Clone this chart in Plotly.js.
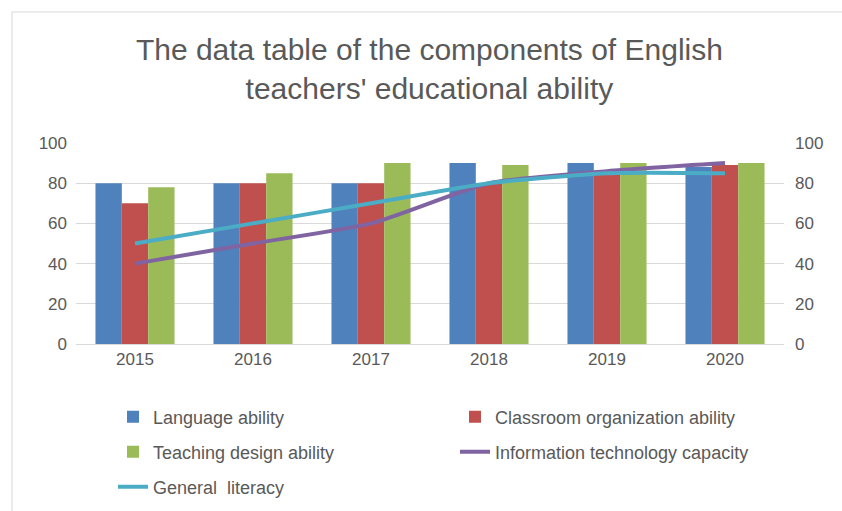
<!DOCTYPE html>
<html><head><meta charset="utf-8">
<script src="https://cdn.plot.ly/plotly-3.0.1.min.js"></script>
<style>html,body{margin:0;padding:0;background:#fff}#chart{width:842px;height:511px}</style>
</head><body><div id="chart"></div>
<script>
const years = ['2015','2016','2017','2018','2019','2020'];
const languageAbility = [80, 80, 80, 90, 90, 88];
const classroomAbility = [70, 80, 80, 80, 85, 89];
const teachingDesign = [78, 85, 90, 89, 90, 90];
const infoTech = [40, 50, 60, 80, 86, 90];
const generalLiteracy = [50, 60, 70, 80, 85, 85];

const grey = '#595959';
const font = 'Liberation Sans, Arial, sans-serif';
const traces = [
  {type:'bar', name:'Language ability', x:years, y:languageAbility, marker:{color:'#4F81BD'}, legend:'legend'},
  {type:'bar', name:'Classroom organization ability', x:years, y:classroomAbility, marker:{color:'#C0504D'}, legend:'legend'},
  {type:'bar', name:'Teaching design ability', x:years, y:teachingDesign, marker:{color:'#9BBB59'}, legend:'legend2'},
  {type:'scatter', mode:'lines', name:'Information technology capacity', x:years, y:infoTech, line:{color:'#8064A2', width:4, shape:'spline', smoothing:0.6}, legend:'legend2'},
  {type:'scatter', mode:'lines', name:'General  literacy', x:years, y:generalLiteracy, line:{color:'#4BACC6', width:4, shape:'spline', smoothing:0.6}, legend:'legend3'},
  {type:'scatter', x:years, y:languageAbility, yaxis:'y2', showlegend:false, hoverinfo:'skip', mode:'markers', marker:{opacity:0}}
];
function leg(yPx){
  return {orientation:'h', x:(113-76)/708, xanchor:'left', y:(344-yPx)/201, yanchor:'middle',
    entrywidth:297, entrywidthmode:'pixels', font:{size:18, color:grey, family:font}, traceorder:'normal', bgcolor:'rgba(0,0,0,0)'};
}
const layout = {
  width:842, height:511,
  margin:{l:76, r:58, t:143, b:167, autoexpand:false},
  paper_bgcolor:'#fff', plot_bgcolor:'#fff',
  font:{family:font, color:grey, size:17},
  title:{text:"The data table of the components of English<br>teachers' educational ability", x:0.51, xanchor:'center', xref:'container', yref:'container', y:1-60/511, yanchor:'top', font:{size:30, color:grey, family:font}},
  barmode:'group', bargap:0.33, bargroupgap:0,
  showlegend:true,
  legend:leg(417), legend2:leg(452), legend3:leg(487),
  xaxis:{type:'category', showgrid:false, showline:true, linecolor:'#D9D9D9', ticks:'', tickfont:{size:17}, fixedrange:true},
  yaxis:{range:[0,100], dtick:20, showgrid:true, gridcolor:'#D9D9D9', zeroline:false, showline:false, ticks:'', tickfont:{size:17}, ticklabelstandoff:8},
  yaxis2:{range:[0,100], dtick:20, overlaying:'y', side:'right', showgrid:false, zeroline:false, showline:false, ticks:'', tickfont:{size:17}, ticklabelstandoff:10},
  shapes:[{type:'rect', xref:'paper', yref:'paper', x0:-0.0904, x1:1.2, y0:-1.0, y1:1.652, line:{color:'#D9D9D9', width:1}, fillcolor:'rgba(0,0,0,0)', layer:'below'}]
};
Plotly.newPlot('chart', traces, layout, {displayModeBar:false, staticPlot:true});
</script></body></html>
